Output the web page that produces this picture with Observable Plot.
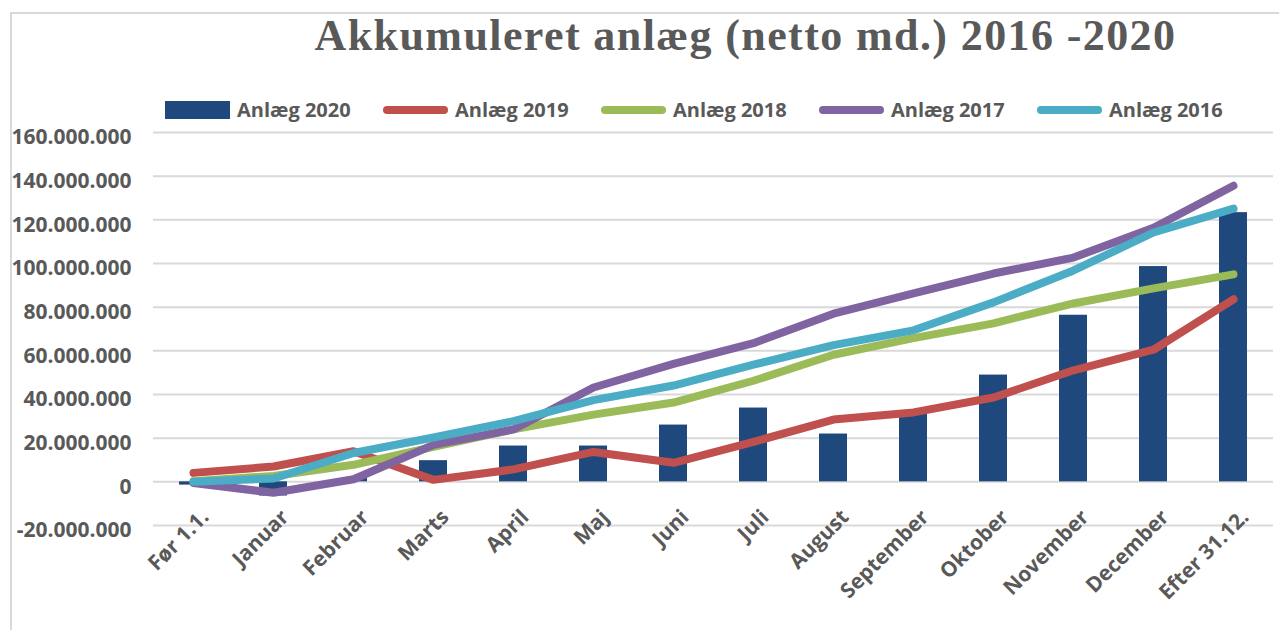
<!DOCTYPE html>
<html>
<head>
<meta charset="utf-8">
<script src="https://cdn.jsdelivr.net/npm/d3@7"></script>
<script src="https://cdn.jsdelivr.net/npm/@observablehq/plot@0.6"></script>
<style>
  html, body { margin: 0; padding: 0; background: #fff; overflow: hidden; }
  #page { position: relative; width: 1279px; height: 630px; }
  #frame { position: absolute; left: 10px; top: 12px; width: 1400px; height: 700px;
           border-top: 2px solid #d9d9d9; border-left: 2px solid #d9d9d9; pointer-events: none; }
  #header { position: relative; width: 1279px; height: 122px; }
  #title { position: absolute; left: 212px; width: 1067px; top: 14px; text-align: center;
           font-family: "Liberation Serif", serif; font-weight: bold; font-size: 44px; line-height: 44px;
           letter-spacing: 1.4px; color: #595959; white-space: nowrap; }
  #legend { position: absolute; left: 165px; top: 99px; height: 22px; display: flex; }
  .item { width: 218px; height: 22px; display: flex; align-items: center;
          font-family: "Open Sans", sans-serif; font-weight: bold; font-size: 20px; line-height: 22px; color: #595959; white-space: nowrap; }
  .sw { flex: none; width: 65px; margin-right: 7px; }
  .sw.bar { height: 18px; }
  .sw.line { height: 8px; border-radius: 4px; }
  #chart { display: block; }
</style>
</head>
<body>
<div id="page">
  <div id="header">
    <div id="title"></div>
    <div id="legend"></div>
  </div>
  <div id="chart"></div>
  <div id="frame"></div>
</div>
<script>
const title = "Akkumuleret anlæg (netto md.) 2016 -2020";
const categories = ["Før 1.1.", "Januar", "Februar", "Marts", "April", "Maj", "Juni", "Juli", "August", "September", "Oktober", "November", "December", "Efter 31.12."];
const seriesNames = ["Anlæg 2020", "Anlæg 2019", "Anlæg 2018", "Anlæg 2017", "Anlæg 2016"];
const seriesColors = ["#1F497D", "#C0504D", "#9BBB59", "#8064A2", "#4BACC6"];
const anlaeg2020 = [-1500000, -6500000, 1500000, 9700000, 16400000, 16400000, 26000000, 33800000, 21900000, 31000000, 48900000, 76300000, 98600000, 123300000];
const anlaeg2019 = [4100000, 7000000, 14000000, 900000, 5700000, 13700000, 8700000, 18300000, 28500000, 31800000, 38600000, 51100000, 60500000, 83600000];
const anlaeg2018 = [300000, 2700000, 7800000, 16000000, 24000000, 30800000, 36300000, 46300000, 58200000, 65800000, 72600000, 81700000, 88600000, 95000000];
const anlaeg2017 = [-500000, -5000000, 1200000, 16900000, 24000000, 43200000, 54000000, 63500000, 77000000, 86300000, 95400000, 102700000, 116400000, 135600000];
const anlaeg2016 = [0, 1500000, 13200000, 20300000, 27800000, 37400000, 44100000, 53700000, 62600000, 69400000, 82200000, 96800000, 114200000, 125100000];
const yTicks = [-20000000, 0, 20000000, 40000000, 60000000, 80000000, 100000000, 120000000, 140000000, 160000000];

document.getElementById("title").textContent = title;

// legend
const legend = document.getElementById("legend");
seriesNames.forEach((name, i) => {
  const item = document.createElement("div");
  item.className = "item";
  const sw = document.createElement("span");
  sw.className = "sw " + (i === 0 ? "bar" : "line");
  sw.style.background = seriesColors[i];
  const label = document.createElement("span");
  label.textContent = name;
  item.appendChild(sw);
  item.appendChild(label);
  legend.appendChild(item);
});

const toRows = arr => categories.map((c, i) => ({cat: c, value: arr[i]}));
const bars = toRows(anlaeg2020);
const lineSeries = [anlaeg2019, anlaeg2018, anlaeg2017, anlaeg2016].map(toRows);

const locale = d3.formatLocale({decimal: ",", thousands: ".", grouping: [3], currency: ["", ""], minus: "-"});
const fmt = locale.format(",");

const textColor = "#595959";

const chart = Plot.plot({
  width: 1279,
  height: 508,
  marginTop: 10,
  marginBottom: 105,
  marginLeft: 153,
  marginRight: 6,
  style: {fontFamily: "'Open Sans', sans-serif", fontSize: "21px", fontWeight: "bold", color: textColor, background: "transparent", overflow: "visible"},
  x: {type: "band", domain: categories, paddingInner: 0.65, paddingOuter: 0.325, axis: null},
  y: {domain: [-20000000, 160000000], axis: null},
  marks: [
    Plot.gridY(yTicks, {stroke: "#d9d9d9", strokeOpacity: 1, strokeWidth: 2}),
    Plot.axisY(yTicks, {tickFormat: fmt, tickSize: 0, tickPadding: 22, dy: 5, label: null, fill: textColor}),
    Plot.barY(bars, {x: "cat", y: "value", fill: seriesColors[0]}),
    ...lineSeries.map((rows, i) => Plot.lineY(rows, {x: "cat", y: "value", stroke: seriesColors[i + 1], strokeWidth: 8, strokeLinecap: "round", strokeLinejoin: "round"})),
    Plot.text(categories, {x: d => d, y: () => 0, text: d => d, rotate: -45, textAnchor: "end", lineAnchor: "top", dx: 6, dy: 26, fill: textColor})
  ]
});
document.getElementById("chart").appendChild(chart);
</script>
</body>
</html>
